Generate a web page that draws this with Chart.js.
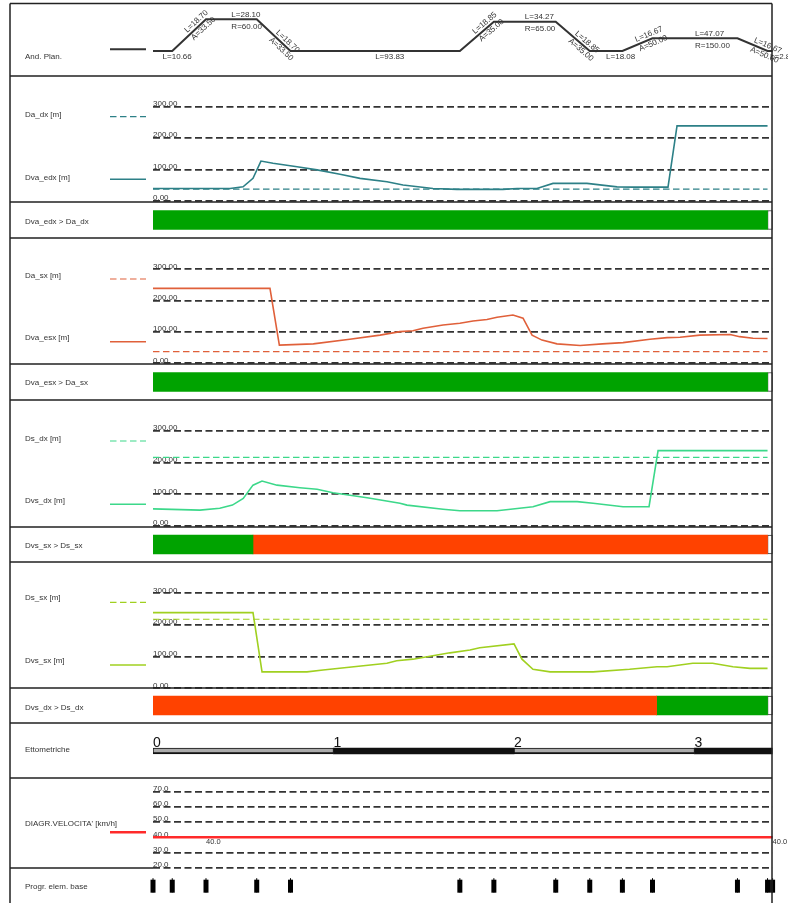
<!DOCTYPE html>
<html>
<head>
<meta charset="utf-8">
<script src="https://cdn.jsdelivr.net/npm/chart.js@4.4.0/dist/chart.umd.min.js"></script>
<style>
  html, body { margin: 0; padding: 0; background: #fff; }
  #sheet { position: relative; width: 788px; height: 903px; overflow: hidden; background: #fff; }
  #sheet canvas { position: absolute; left: 0; }
</style>
</head>
<body>
<div id="sheet"></div>
<script>
// ---------------- data ----------------
// progressive distance (m) of every base element of the alignment
const elementProg = [0, 10.66, 29.36, 57.46, 76.16, 169.99, 188.84, 223.11, 241.96, 260.04, 276.71, 323.78, 340.45, 343.25];
// plan curvature diagram (1000/R) at each element boundary
const planCurv = [0, 0, 16.67, 16.67, 0, 0, 15.38, 15.38, 0, 0, 6.67, 6.67, 0, 0];
// element annotations, one entry per element
const planTexts = [
  ["L=10.66"], ["L=18.70", "A=33.50"], ["L=28.10", "R=60.00"], ["L=18.70", "A=33.50"],
  ["L=93.83"], ["L=18.85", "A=35.00"], ["L=34.27", "R=65.00"], ["L=18.85", "A=35.00"],
  ["L=18.08"], ["L=16.67", "A=50.00"], ["L=47.07", "R=150.00"], ["L=16.67", "A=50.00"],
  ["L=2.80"]
];
const profileEnd = 340.45;
const totalLength = 343.25;

// visibility distances [m]: [progressive, value]
const dvaEdx = [[0,40],[42.7,40],[49.9,45],[55.4,72],[59.8,127],[66.5,120],[79.8,109],[90.9,99],[103.6,85],[114.7,72],[129.6,61],[138.5,51],[155.1,40],[168.4,37],[193.9,37],[201.7,40],[212.7,40],[221.6,56],[240.4,56],[257.1,45],[265.9,44],[285.3,44],[290.3,239],[340.45,239]];
const daDx = 38;
const dvaEsx = [[0,239],[64.8,239],[70,58],[88.8,62],[109,77],[125.8,90],[136.8,101],[144,104],[149.6,112],[160.7,122],[170,128],[177.3,135],[185,140],[190.6,147],[199.4,154],[205,144],[210,90],[215.5,74],[223.8,62],[236.6,57],[249,62],[260.4,66],[275.3,77],[284.8,82],[292,83],[303,90],[319.7,92],[325,85],[332.4,80],[340.45,79]];
const daSx = 37;
const dvsDx = [[0,54],[26,50],[37,56],[44,66],[50,87],[55.4,129],[60.4,142],[68.7,129],[81.4,121],[90.9,116],[99.7,105],[118.6,89],[136.8,72],[140.7,66],[160.7,53],[170,48],[190.6,48],[210.5,61],[220,77],[235,77],[243.8,72],[260.4,61],[274.8,61],[279.8,238],[340.45,238]];
const dsDx = 217;
const dvsSx = [[0,239],[55.4,239],[60.4,52],[85.3,52],[94.2,58],[129.6,79],[135,87],[144,92],[155,103],[164.5,112],[175.6,121],[181,128],[200,140],[204.4,92],[210.5,60],[220,52],[243.8,52],[264,60],[279.2,68],[284.8,68],[299,79],[310,79],[321.3,68],[330.7,63],[340.45,63]];
const dsSx = 218;

// verification bands: [from, to, passed]
const chkEdx = [[0, 340.45, 1]];
const chkEsx = [[0, 340.45, 1]];
const chkSdx = [[0, 55.4, 1], [55.4, 340.45, 0]];
const chkSsx = [[0, 279.0, 0], [279.0, 340.45, 1]];

// axis ticks
const distTicks = [0, 100, 200, 300];
const speedTicks = [20, 30, 40, 50, 60, 70];
const hectoTicks = [0, 1, 2, 3];

// design speed [km/h] at each element boundary
const speedKmh = [40, 40, 40, 40, 40, 40, 40, 40, 40, 40, 40, 40, 40, 40];
const speedNoteIdx = [2, 13];

// ---------------- styling ----------------
const FONT = "'Liberation Sans', Arial, Helvetica, sans-serif";
const INK = '#333';
const PAD_L = 153;
const PAD_R = 788 - 772.6;
const GREEN = '#00a300';
const RED = '#ff4200';

const sheet = document.getElementById('sheet');
function addCanvas(top, height) {
  const c = document.createElement('canvas');
  c.width = 788; c.height = height;
  c.style.top = top + 'px';
  c.style.width = '788px'; c.style.height = height + 'px';
  sheet.appendChild(c);
  return c;
}

// captions and legend swatches in the left column
const sideLabels = {
  id: 'sideLabels',
  afterDraw(chart, _args, opts) {
    const ctx = chart.ctx;
    ctx.save();
    ctx.font = `8px ${FONT}`;
    ctx.fillStyle = INK;
    ctx.textAlign = 'left';
    ctx.textBaseline = 'middle';
    (opts.rows || []).forEach(r => ctx.fillText(r.text, 25, r.y));
    (opts.swatches || []).forEach(s => {
      const ds = chart.data.datasets[s.ds];
      ctx.strokeStyle = ds.borderColor;
      ctx.lineWidth = ds.borderWidth;
      ctx.setLineDash(ds.borderDash || []);
      ctx.beginPath(); ctx.moveTo(110, s.y); ctx.lineTo(146, s.y); ctx.stroke();
    });
    ctx.restore();
  }
};
Chart.register(sideLabels);

function xAxis() {
  return { type: 'linear', min: 0, max: totalLength, display: false };
}
function valueAxis(ticks, decimals) {
  return {
    type: 'linear', position: 'left', min: ticks[0], max: ticks[ticks.length - 1],
    afterBuildTicks: s => { s.ticks = ticks.map(v => ({ value: v })); },
    afterFit: s => { s.width = 0; s.paddingTop = 0; s.paddingBottom = 0; s.paddingLeft = 0; s.paddingRight = 0; },
    ticks: { mirror: true, padding: 0, labelOffset: -3, autoSkip: false, color: INK,
             font: { family: FONT, size: 8 }, callback: v => Number(v).toFixed(decimals) },
    grid: { color: '#333', lineWidth: 1.7, drawTicks: false },
    border: { display: false, dash: [7, 3.5] }
  };
}
function baseOptions(top, bottom, scales, plugins) {
  return {
    responsive: false, animation: false, devicePixelRatio: 1, events: [],
    layout: { padding: { left: PAD_L, right: PAD_R, top: top, bottom: bottom } },
    scales: scales,
    plugins: Object.assign({ legend: { display: false }, tooltip: { enabled: false } }, plugins || {})
  };
}

// ---------------- plan diagram ----------------
const planNotes = {
  id: 'planNotes',
  afterDatasetsDraw(chart, _args, opts) {
    const pts = chart.getDatasetMeta(0).data;
    const base = chart.scales.y.getPixelForValue(0);
    const ctx = chart.ctx;
    ctx.save();
    ctx.font = `8px ${FONT}`;
    ctx.fillStyle = INK;
    ctx.textAlign = 'left';
    opts.texts.forEach((t, i) => {
      const a = pts[i], b = pts[i + 1];
      const mx = (a.x + b.x) / 2, my = (a.y + b.y) / 2;
      const ang = Math.atan2(b.y - a.y, b.x - a.x);
      ctx.save();
      ctx.translate(mx, my);
      if (Math.abs(ang) > 0.01) {
        ctx.rotate(ang);
        ctx.textBaseline = 'bottom'; ctx.fillText(t[0], 0, -1);
        ctx.textBaseline = 'top'; ctx.fillText(t[1], 0, 1);
      } else if (a.y < base - 1) {
        ctx.textBaseline = 'middle';
        ctx.fillText(t[0], 0, -4.5);
        ctx.fillText(t[1], 0, 7);
      } else {
        ctx.textBaseline = 'middle';
        ctx.fillText(t[0], 0, 5.5);
      }
      ctx.restore();
    });
    ctx.restore();
  }
};
new Chart(addCanvas(0, 77), {
  type: 'line',
  data: { datasets: [{
    data: elementProg.map((p, i) => [p, planCurv[i]]),
    borderColor: '#333', borderWidth: 2, pointRadius: 0, tension: 0, fill: false, clip: false
  }]},
  options: baseOptions(19.3, 26, {
    x: xAxis(),
    y: { type: 'linear', min: 0, max: 16.67, display: false }
  }, {
    planNotes: { texts: planTexts },
    sideLabels: { rows: [{ text: 'And. Plan.', y: 56.5 }], swatches: [{ ds: 0, y: 49.3 }] }
  }),
  plugins: [planNotes]
});

// ---------------- distance panels ----------------
function profilePanel(p) {
  const h = p.bottom - p.top;
  new Chart(addCanvas(p.top, h), {
    type: 'line',
    data: { datasets: [
      { data: p.measured, borderColor: p.color, borderWidth: 1.6, pointRadius: 0, tension: 0, fill: false },
      { data: [[0, p.limit], [profileEnd, p.limit]], borderColor: p.color, borderWidth: 1.2,
        borderDash: [6.5, 3.5], pointRadius: 0, fill: false }
    ]},
    options: baseOptions(p.y300 - p.top, p.bottom - p.y0, {
      x: xAxis(), y: valueAxis(distTicks, 2)
    }, {
      sideLabels: {
        rows: [{ text: p.limitName, y: p.rowA - p.top }, { text: p.measName, y: p.rowB - p.top }],
        swatches: [{ ds: 1, y: p.swA - p.top }, { ds: 0, y: p.swB - p.top }]
      }
    })
  });
}
function checkBand(b) {
  const ds = b.segs.map(s => ({
    data: [[s[0], s[1]]], backgroundColor: s[2] ? GREEN : RED, borderWidth: 0, barThickness: 19
  }));
  ds.push({ data: [[profileEnd, totalLength]], backgroundColor: '#fff', borderColor: '#333',
            borderWidth: 1, borderSkipped: false, barThickness: 19 });
  new Chart(addCanvas(b.top, b.bottom - b.top), {
    type: 'bar',
    data: { labels: ['check'], datasets: ds },
    options: Object.assign(baseOptions(0, 0, {
      x: xAxis(), y: { type: 'category', display: false }
    }, {
      sideLabels: { rows: [{ text: b.name, y: b.row - b.top }] }
    }), { indexAxis: 'y', datasets: { bar: { grouped: false } } })
  });
}

profilePanel({ top: 77, bottom: 202, y300: 106.7, y0: 201, color: '#2d8087',
  measured: dvaEdx, limit: daDx, limitName: 'Da_dx [m]', measName: 'Dva_edx [m]',
  rowA: 115, swA: 116.7, rowB: 177.7, swB: 179.3 });
checkBand({ top: 202, bottom: 238, segs: chkEdx, name: 'Dva_edx > Da_dx', row: 222 });

profilePanel({ top: 238, bottom: 364, y300: 269.3, y0: 363.3, color: '#e0603a',
  measured: dvaEsx, limit: daSx, limitName: 'Da_sx [m]', measName: 'Dva_esx [m]',
  rowA: 275.5, swA: 279, rowB: 338, swB: 341.7 });
checkBand({ top: 364, bottom: 400, segs: chkEsx, name: 'Dva_esx > Da_sx', row: 382.7 });

profilePanel({ top: 400, bottom: 527, y300: 431, y0: 526, color: '#3cd88a',
  measured: dvsDx, limit: dsDx, limitName: 'Ds_dx [m]', measName: 'Dvs_dx [m]',
  rowA: 438.5, swA: 441, rowB: 501, swB: 504.3 });
checkBand({ top: 527, bottom: 562, segs: chkSdx, name: 'Dvs_sx > Ds_sx', row: 545.7 });

profilePanel({ top: 562, bottom: 690, y300: 593.3, y0: 688.3, color: '#a0d020',
  measured: dvsSx, limit: dsSx, limitName: 'Ds_sx [m]', measName: 'Dvs_sx [m]',
  rowA: 597.5, swA: 602.3, rowB: 660.5, swB: 665 });
checkBand({ top: 688, bottom: 723, segs: chkSsx, name: 'Dvs_dx > Ds_dx', row: 707.3 });

// ---------------- hectometre band ----------------
const hectoLabels = {
  id: 'hectoLabels',
  afterDatasetsDraw(chart) {
    const ctx = chart.ctx, x = chart.scales.x;
    ctx.save();
    ctx.font = `14px ${FONT}`;
    ctx.fillStyle = '#111';
    ctx.textAlign = 'left';
    ctx.textBaseline = 'alphabetic';
    hectoTicks.forEach(h => ctx.fillText(String(h), x.getPixelForValue(h * 100), 24.3));
    ctx.restore();
  }
};
const hectoSegs = hectoTicks.map((h, i) => [h * 100, i + 1 < hectoTicks.length ? hectoTicks[i + 1] * 100 : totalLength]);
new Chart(addCanvas(723, 55), {
  type: 'bar',
  data: { labels: ['hm'], datasets: hectoSegs.map((s, i) => i % 2 === 0
    ? { data: [s], backgroundColor: '#ababab', borderColor: '#111',
        borderWidth: { top: 1, bottom: 2.2, left: 1, right: 1 }, borderSkipped: false, barThickness: 6 }
    : { data: [s], backgroundColor: '#111', borderWidth: 0, barThickness: 6 }) },
  options: Object.assign(baseOptions(1, 0, {
    x: xAxis(), y: { type: 'category', display: false }
  }, {
    sideLabels: { rows: [{ text: 'Ettometriche', y: 27 }] }
  }), { indexAxis: 'y', datasets: { bar: { grouped: false } } }),
  plugins: [hectoLabels]
});

// ---------------- speed diagram ----------------
const speedNotes = {
  id: 'speedNotes',
  afterDatasetsDraw(chart) {
    const pts = chart.getDatasetMeta(0).data;
    const ctx = chart.ctx;
    ctx.save();
    ctx.font = `7.5px ${FONT}`;
    ctx.fillStyle = INK;
    ctx.textAlign = 'left';
    ctx.textBaseline = 'middle';
    speedNoteIdx.forEach(i => ctx.fillText(speedKmh[i].toFixed(1), pts[i].x, pts[i].y + 5));
    ctx.restore();
  }
};
new Chart(addCanvas(778, 92), {
  type: 'line',
  data: { datasets: [{
    data: elementProg.map((p, i) => [p, speedKmh[i]]),
    borderColor: '#ff2a2a', borderWidth: 2.4, pointRadius: 0, tension: 0, fill: false, clip: false
  }]},
  options: baseOptions(13.7, 2.3, {
    x: xAxis(), y: valueAxis(speedTicks, 1)
  }, {
    sideLabels: { rows: [{ text: "DIAGR.VELOCITA' [km/h]", y: 45.3 }], swatches: [{ ds: 0, y: 54.3 }] }
  }),
  plugins: [speedNotes]
});

// ---------------- base element progressives ----------------
const tickStyle = { pointStyle: 'line', pointRotation: 90, pointBorderColor: '#000', showLine: false, clip: false };
new Chart(addCanvas(868, 35), {
  type: 'scatter',
  data: { datasets: [
    Object.assign({ data: elementProg.map(p => [p, 15.5]), pointRadius: 6.5, pointBorderWidth: 5 }, tickStyle),
    Object.assign({ data: elementProg.map(p => [p, 33]), pointRadius: 2, pointBorderWidth: 1 }, tickStyle),
    Object.assign({ data: elementProg.map(p => [p, 1.5]), pointRadius: 1.5, pointBorderWidth: 1 }, tickStyle)
  ]},
  options: baseOptions(0, 0, {
    x: xAxis(), y: { type: 'linear', min: 0, max: 35, display: false }
  }, {
    sideLabels: { rows: [{ text: 'Progr. elem. base', y: 18.7 }] }
  })
});

// ---------------- table frame ----------------
const frame = addCanvas(0, 903);
const fx = frame.getContext('2d');
fx.strokeStyle = '#222';
fx.lineWidth = 1.5;
fx.beginPath();
[3.5, 76, 202, 238, 364, 400, 527, 562, 688, 723, 778].forEach(y => { fx.moveTo(10, y); fx.lineTo(772, y); });
fx.moveTo(10, 868); fx.lineTo(153, 868);
fx.moveTo(10, 3.5); fx.lineTo(10, 903);
fx.moveTo(772, 3.5); fx.lineTo(772, 903);
fx.stroke();
</script>
</body>
</html>
